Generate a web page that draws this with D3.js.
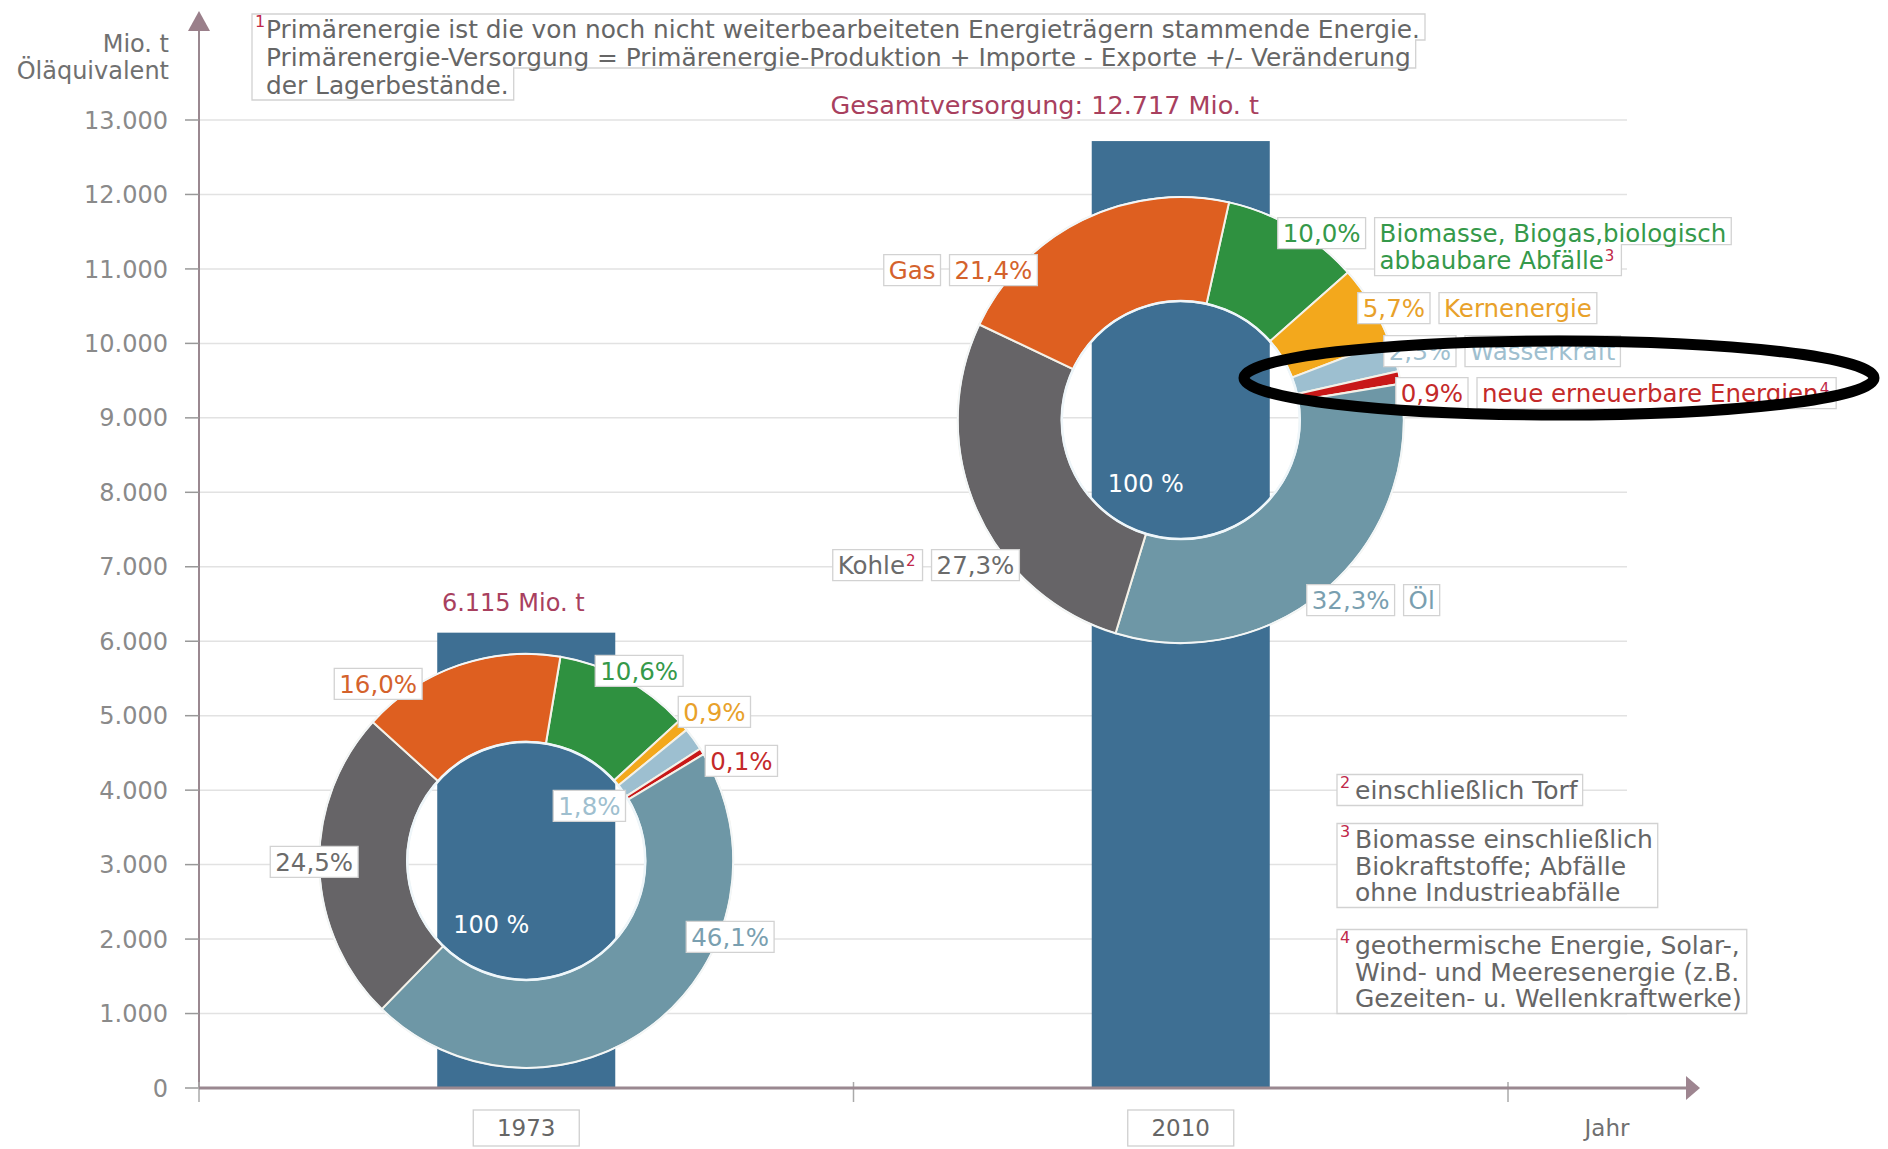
<!DOCTYPE html>
<html lang="de">
<head>
<meta charset="UTF-8">
<title>Primärenergie-Versorgung weltweit 1973 und 2010</title>
<script src="https://d3js.org/d3.v7.min.js"></script>
<style>
  body { margin: 0; background: #fff; }
  svg { display: block; }
  text { font-family: "DejaVu Sans", Verdana, sans-serif; }
</style>
</head>
<body>
<svg width="1888" height="1149"></svg>
<script>
// ---- data ----
const years = ["1973", "2010"];
const totals = [6115, 12717];
const totalLabels = ["6.115 Mio. t", "Gesamtversorgung:  12.717 Mio. t"];
const sources = ["Biomasse", "Kernenergie", "Wasserkraft", "Neue", "Öl", "Kohle", "Gas"];
const shares1973 = [10.6, 0.9, 1.8, 0.1, 46.1, 24.5, 16.0];
const shares2010 = [10.0, 5.7, 2.3, 0.9, 32.3, 27.3, 21.4];
const yTicks = [0, 1000, 2000, 3000, 4000, 5000, 6000, 7000, 8000, 9000, 10000, 11000, 12000, 13000];

const sourceNames = {
  "Biomasse": [{t: "Biomasse, Biogas,biologisch"}, {t: "abbaubare Abfälle", sup: "3"}],
  "Kernenergie": [{t: "Kernenergie"}],
  "Wasserkraft": [{t: "Wasserkraft"}],
  "Neue": [{t: "neue erneuerbare Energien", sup: "4"}],
  "Öl": [{t: "Öl"}],
  "Kohle": [{t: "Kohle", sup: "2"}],
  "Gas": [{t: "Gas"}]
};
const footnote1 = ["Primärenergie ist die von noch nicht weiterbearbeiteten Energieträgern stammende Energie.",
  "Primärenergie-Versorgung = Primärenergie-Produktion + Importe - Exporte +/- Veränderung",
  "der Lagerbestände."];
const footnotes = [
  {n: "2", lines: ["einschließlich Torf"]},
  {n: "3", lines: ["Biomasse einschließlich", "Biokraftstoffe; Abfälle", "ohne Industrieabfälle"]},
  {n: "4", lines: ["geothermische Energie, Solar-,", "Wind- und Meeresenergie (z.B.", "Gezeiten- u. Wellenkraftwerke)"]}
];

// ---- styles ----
const fill = {"Öl": "#6e97a6", "Kohle": "#666467", "Gas": "#de5f20", "Biomasse": "#2f9140",
  "Kernenergie": "#f3a81c", "Wasserkraft": "#9dbfd0", "Neue": "#c81818"};
const ink = {"Öl": "#7a9fb0", "Kohle": "#6b6b6b", "Gas": "#d4622c", "Biomasse": "#35994a",
  "Kernenergie": "#e8a12a", "Wasserkraft": "#9fbfcf", "Neue": "#c42a2a"};
const barColor = "#3e6f93";
const supColor = "#c0284a";
const totalColor = "#a8405e";
const axisColor = "#9a8890";

// ---- layout ----
const svg = d3.select("svg");
const y = d3.scaleLinear().domain([0, 13000]).range([1088, 120]);
const x = d3.scaleBand().domain(years).range([199, 1508]).padding(0);
const barW = x.bandwidth() * 0.272;
const gridRight = 1627;
const donutAt = [3050, 8970];           // vertical centre of each ring, in axis units
const outerR = [207, 223], innerR = 119;
const startDeg = [9.5, 12.5];
const pctPos1973 = {"Biomasse": [69, -190], "Kernenergie": [152, -149], "Wasserkraft": [27, -55],
  "Neue": [179, -100], "Öl": [160, 76], "Kohle": [-256, 1], "Gas": [-192, -177]};
const rowPos2010 = {"Biomasse": [97, -187], "Kernenergie": [177, -112], "Wasserkraft": [203, -69],
  "Neue": [215, -27], "Öl": [126, 180], "Kohle": [-348, 145], "Gas": [-297, -150]};

const loc = d3.formatLocale({decimal: ",", thousands: ".", grouping: [3], currency: ["", "€"]});
const fmtTick = loc.format(",");
const fmtPct = v => loc.format(".1f")(v) + "%";

// grid
svg.append("g").selectAll("line").data(yTicks.filter(d => d > 0)).join("line")
  .attr("x1", 199).attr("x2", gridRight)
  .attr("y1", d => y(d)).attr("y2", d => y(d))
  .attr("stroke", "#e2e2e2").attr("stroke-width", 1.5);

// bars
svg.append("g").selectAll("rect").data(years).join("rect")
  .attr("x", d => x(d) + (x.bandwidth() - barW) / 2)
  .attr("width", barW)
  .attr("y", (d, i) => y(totals[i]))
  .attr("height", (d, i) => y(0) - y(totals[i]))
  .attr("fill", barColor);

// ---- label boxes ----
function drawBox(parent, left, cy, lines, color, opts = {}) {
  const g = parent.append("g");
  const path = g.append("path");
  const fs = opts.fs || 24.5, lh = opts.lh || 27, padX = opts.padX || 5, half = opts.half || 15.5;
  const tx = left + (opts.textOff || padX);
  const widths = lines.map((ln, i) => {
    const t = g.append("text")
      .attr("x", tx).attr("y", cy + i * lh).attr("dy", "0.36em")
      .attr("fill", color).style("font-size", fs + "px").text(ln.t);
    if (ln.sup) t.append("tspan").attr("dy", "-0.55em").attr("dx", 1)
      .attr("fill", supColor).style("font-size", "15px").text(ln.sup);
    return t.node().getComputedTextLength() + (ln.sup ? 3 : 0);
  });
  let rights = widths.map(w => tx + w + padX);
  if (opts.rect) { const m = d3.max(rights); rights = rights.map(() => m); }
  const top = cy - half, n = lines.length;
  let p = `M${left},${top}H${rights[0]}`;
  for (let i = 1; i < n; i++) {
    const yb = cy + (i - 1) * lh + half - 4;
    p += `V${yb}H${rights[i]}`;
  }
  p += `V${cy + (n - 1) * lh + half}H${left}Z`;
  path.attr("d", p).attr("fill", "#fff").attr("stroke", "#d2d2d2").attr("stroke-width", 1.3);
  if (opts.note) g.append("text").attr("x", left + 3).attr("y", top + 13)
    .attr("fill", supColor).style("font-size", "16px").text(opts.note);
  return rights[0] - left;
}
function boxRow(parent, left, cy, items) {
  let xx = left;
  items.forEach(it => { xx += drawBox(parent, xx, cy, it.lines, it.color) + 9; });
}

// ---- donuts ----
const shareSets = [shares1973, shares2010];
years.forEach((yr, k) => {
  const cx = x(yr) + x.bandwidth() / 2, cy = y(donutAt[k]);
  const g = svg.append("g").attr("transform", `translate(${cx},${cy})`);
  const items = sources.map((s, i) => ({source: s, share: shareSets[k][i]}));
  const a0 = startDeg[k] * Math.PI / 180;
  const pie = d3.pie().sort(null).value(d => Math.max(d.share, 0.5))
    .startAngle(a0).endAngle(a0 + 2 * Math.PI);
  const arc = d3.arc().innerRadius(innerR).outerRadius(outerR[k]);
  g.selectAll("path").data(pie(items)).join("path")
    .attr("d", arc).attr("fill", d => fill[d.data.source])
    .attr("stroke", "#f4f1e8").attr("stroke-width", 2);
  g.append("circle").attr("r", innerR).attr("fill", "none").attr("stroke", "#eef6fa").attr("stroke-width", 2.5);
  g.append("circle").attr("r", outerR[k]).attr("fill", "none").attr("stroke", "#f2f7fa").attr("stroke-width", 1.5);
  g.append("text").attr("x", -35).attr("y", 72).attr("text-anchor", "middle")
    .attr("fill", "#fff").style("font-size", "24px").text("100 %");

  const lab = svg.append("g");
  if (k === 0) {
    items.forEach(d => {
      const [dx, dy] = pctPos1973[d.source];
      drawBox(lab, cx + dx, cy + dy, [{t: fmtPct(d.share)}], ink[d.source]);
    });
  } else {
    items.forEach(d => {
      const [dx, dy] = rowPos2010[d.source];
      const pct = {lines: [{t: fmtPct(d.share)}], color: ink[d.source]};
      const name = {lines: sourceNames[d.source], color: ink[d.source]};
      const nameFirst = d.source === "Gas" || d.source === "Kohle";
      boxRow(lab, cx + dx, cy + dy, nameFirst ? [name, pct] : [pct, name]);
    });
  }
});

// totals above bars
svg.append("text").attr("x", x(years[0]) + x.bandwidth() / 2 - 13).attr("y", y(totals[0]) - 22)
  .attr("text-anchor", "middle").attr("fill", totalColor).style("font-size", "24px").text(totalLabels[0]);
svg.append("text").attr("x", x(years[1]) + x.bandwidth() / 2 - 136).attr("y", 114)
  .attr("text-anchor", "middle").attr("fill", totalColor).style("font-size", "25.5px").text(totalLabels[1]);

// ---- axes ----
const ax = svg.append("g");
ax.append("line").attr("x1", 199).attr("x2", 199).attr("y1", y(0)).attr("y2", 30)
  .attr("stroke", axisColor).attr("stroke-width", 2);
ax.append("path").attr("d", "M199,11L210,31L188,31Z").attr("fill", "#9a7f8a");
ax.selectAll(".yt").data(yTicks).join("line").attr("class", "yt")
  .attr("x1", 185).attr("x2", 199).attr("y1", d => y(d)).attr("y2", d => y(d))
  .attr("stroke", "#999").attr("stroke-width", 1.5);
ax.selectAll(".yl").data(yTicks).join("text").attr("class", "yl")
  .attr("x", 168).attr("y", d => y(d)).attr("dy", "0.36em").attr("text-anchor", "end")
  .attr("fill", "#8a8a8a").style("font-size", "24px").text(d => fmtTick(d));
ax.append("text").attr("x", 169).attr("y", 52).attr("text-anchor", "end")
  .attr("fill", "#707070").style("font-size", "24px").text("Mio. t");
ax.append("text").attr("x", 169).attr("y", 79).attr("text-anchor", "end")
  .attr("fill", "#707070").style("font-size", "24px").text("Öläquivalent");

const xEdges = [x(years[0]), x(years[1]), x(years[1]) + x.bandwidth()];
ax.selectAll(".xt").data(xEdges).join("line").attr("class", "xt")
  .attr("x1", d => d).attr("x2", d => d).attr("y1", y(0) - 6).attr("y2", y(0) + 14)
  .attr("stroke", "#aaa").attr("stroke-width", 1.5);
ax.append("line").attr("x1", 199).attr("x2", 1690).attr("y1", y(0)).attr("y2", y(0))
  .attr("stroke", axisColor).attr("stroke-width", 3);
ax.append("path").attr("d", `M1686,${y(0) - 12}L1700,${y(0)}L1686,${y(0) + 12}Z`).attr("fill", "#9e8590");

years.forEach(yr => {
  const cx = x(yr) + x.bandwidth() / 2;
  ax.append("rect").attr("x", cx - 53).attr("y", 1110).attr("width", 106).attr("height", 36)
    .attr("fill", "#fff").attr("stroke", "#cfcfcf").attr("stroke-width", 1.3);
  ax.append("text").attr("x", cx).attr("y", 1128).attr("dy", "0.36em")
    .attr("text-anchor", "middle").attr("fill", "#666").style("font-size", "23px").text(yr);
});
ax.append("text").attr("x", 1607).attr("y", 1128).attr("dy", "0.36em")
  .attr("text-anchor", "middle").attr("fill", "#707070").style("font-size", "23px").text("Jahr");

// ---- footnotes ----
const notes = svg.append("g");
drawBox(notes, 252, 29, footnote1.map(t => ({t})), "#666",
  {fs: 24.8, lh: 28, half: 15, textOff: 14, note: "1"});
const noteTop = [790, 839, 945];
footnotes.forEach((f, i) => {
  drawBox(notes, 1337, noteTop[i], f.lines.map(t => ({t})), "#666",
    {rect: true, fs: 25, lh: 26.5, textOff: 18, note: f.n});
});

// highlight ellipse
svg.append("ellipse").attr("cx", 1559).attr("cy", 378).attr("rx", 315).attr("ry", 37)
  .attr("fill", "none").attr("stroke", "#000").attr("stroke-width", 11);
</script>
</body>
</html>
